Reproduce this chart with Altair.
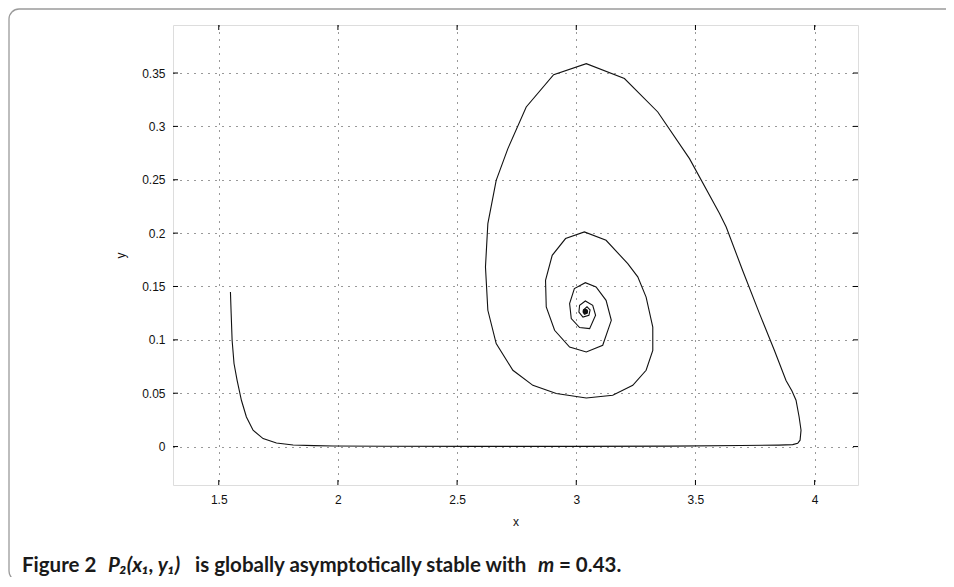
import altair as alt
import pandas as pd

# ---- data ----
traj_x = [1.549, 1.552, 1.556, 1.564, 1.577, 1.595, 1.616, 1.644, 1.686, 1.742,
          1.812, 1.900, 1.980, 2.200, 2.600, 3.000, 3.400, 3.690, 3.850, 3.908,
          3.929, 3.939, 3.943, 3.935, 3.922, 3.905, 3.880, 3.831, 3.768, 3.698,
          3.629, 3.601, 3.475, 3.342, 3.202, 3.042, 2.905, 2.790, 2.713, 2.664,
          2.629, 2.619, 2.629, 2.664, 2.734, 2.818, 2.916, 3.042, 3.153, 3.237,
          3.293, 3.321, 3.321, 3.293, 3.258, 3.216, 3.125, 3.034, 2.955, 2.899,
          2.871, 2.874, 2.909, 2.972, 3.042, 3.111, 3.147, 3.125, 3.083, 3.038,
          2.992, 2.972, 2.979, 3.014, 3.056, 3.081, 3.069, 3.038, 3.014, 3.011,
          3.028, 3.053, 3.058, 3.045, 3.030, 3.034, 3.045, 3.040]
traj_y = [0.1448, 0.1250, 0.0996, 0.0778, 0.0621, 0.0434, 0.0277, 0.0153, 0.0075, 0.0034,
          0.0015, 0.0009, 0.0006, 0.0003, 0.0002, 0.0002, 0.0004, 0.0010, 0.0014, 0.0018,
          0.0030, 0.0060, 0.0154, 0.0277, 0.0434, 0.0520, 0.0620, 0.0902, 0.1250, 0.1650,
          0.2057, 0.2183, 0.2698, 0.3135, 0.3448, 0.3588, 0.3485, 0.3182, 0.2792, 0.2495,
          0.2089, 0.1683, 0.1277, 0.0965, 0.0715, 0.0574, 0.0497, 0.0455, 0.0481, 0.0574,
          0.0715, 0.0902, 0.1120, 0.1400, 0.1590, 0.1714, 0.1933, 0.2011, 0.1949, 0.1792,
          0.1558, 0.1308, 0.1090, 0.0933, 0.0886, 0.0949, 0.1183, 0.1370, 0.1495, 0.1536,
          0.1480, 0.1340, 0.1200, 0.1115, 0.1105, 0.1230, 0.1324, 0.1364, 0.1324, 0.1261,
          0.1214, 0.1230, 0.1280, 0.1310, 0.1280, 0.1240, 0.1250, 0.1280]
eq_x = [3.038]
eq_y = [0.1265]

x_ticks = [1.5, 2.0, 2.5, 3.0, 3.5, 4.0]
y_ticks = [0.0, 0.05, 0.10, 0.15, 0.20, 0.25, 0.30, 0.35]
x_domain = [1.308, 4.182]
y_domain = [-0.036, 0.395]

W, H = 685, 460
PAD_L, PAD_T = 165, 17
PAD_B = 92
OX = PAD_L + 8  # page x of the plot's left edge

traj = pd.DataFrame({"x": traj_x, "y": traj_y, "i": list(range(len(traj_x)))})
eq = pd.DataFrame({"x": eq_x, "y": eq_y})
xt = pd.DataFrame({"v": x_ticks})
yt = pd.DataFrame({"v": y_ticks})

xscale = alt.Scale(domain=x_domain, nice=False, zero=False)
yscale = alt.Scale(domain=y_domain, nice=False, zero=False)

axis_common = dict(
    grid=True, gridDash=[1, 6], gridColor="#000000", gridOpacity=0.8, gridWidth=1,
    ticks=False, domain=False,
    labelFont="Liberation Sans", labelFontSize=12, labelColor="#111111",
    titleFont="Liberation Sans", titleFontSize=12, titleFontWeight="normal", titleColor="#111111",
)

line = alt.Chart(traj).mark_line(color="#111111", strokeWidth=1.1).encode(
    x=alt.X("x:Q", scale=xscale, title="x",
            axis=alt.Axis(values=x_ticks, labelPadding=9, titlePadding=11, format="~g", **axis_common)),
    y=alt.Y("y:Q", scale=yscale, title="y",
            axis=alt.Axis(values=y_ticks, labelPadding=8, titlePadding=14, format="~g", **axis_common)),
    order="i:Q",
)

dot = alt.Chart(eq).mark_point(filled=True, color="#111111", size=30, opacity=1).encode(
    x=alt.X("x:Q", scale=xscale), y=alt.Y("y:Q", scale=yscale)
)

tick_len = 5
xb = alt.Chart(xt).mark_rule(color="#000", strokeWidth=1).encode(
    x=alt.X("v:Q", scale=xscale), y=alt.value(H), y2=alt.value(H - tick_len))
xtop = alt.Chart(xt).mark_rule(color="#000", strokeWidth=1).encode(
    x=alt.X("v:Q", scale=xscale), y=alt.value(0), y2=alt.value(tick_len))
yl = alt.Chart(yt).mark_rule(color="#000", strokeWidth=1).encode(
    y=alt.Y("v:Q", scale=yscale), x=alt.value(0), x2=alt.value(tick_len))
yr = alt.Chart(yt).mark_rule(color="#000", strokeWidth=1).encode(
    y=alt.Y("v:Q", scale=yscale), x=alt.value(W), x2=alt.value(W - tick_len))

# figure border (rounded box); bottom and right edges run off the canvas
border = alt.Chart(pd.DataFrame({"a": [0]})).mark_rect(
    fill="transparent", stroke="#9a9a9a", strokeWidth=1.3, cornerRadius=10, clip=False
).encode(x=alt.value(-PAD_L + 1), x2=alt.value(W + 200), y=alt.value(-PAD_T + 1), y2=alt.value(H + PAD_B + 4))

cap_y = H + 87
cap_font = "Lato"
def cap(text, x, italic=False):
    return alt.Chart(pd.DataFrame({"t": [text]})).mark_text(
        font=cap_font, fontSize=20.5, fontWeight="bold", fontStyle="italic" if italic else "normal",
        align="left", baseline="alphabetic", color="#1a1a1a", clip=False
    ).encode(text="t:N", x=alt.value(x), y=alt.value(cap_y))

caption = (
    cap("Figure 2", 22 - OX) +
    cap("P\u2082(x\u2081, y\u2081)", 108 - OX, italic=True) +
    cap("is globally asymptotically stable with", 195 - OX) +
    cap("m", 538 - OX, italic=True) +
    cap("= 0.43.", 559 - OX)
)

chart = alt.layer(border, line, dot, xb, xtop, yl, yr, caption).properties(
    width=W, height=H,
    autosize=alt.AutoSizeParams(type="none"),
    padding={"left": PAD_L, "top": PAD_T, "right": 938 - PAD_L - W, "bottom": PAD_B},
).configure_view(stroke="#000000", strokeWidth=1.2).configure(background="white")

chart.save("out.html", embed_options={"renderer": "svg", "actions": False})
